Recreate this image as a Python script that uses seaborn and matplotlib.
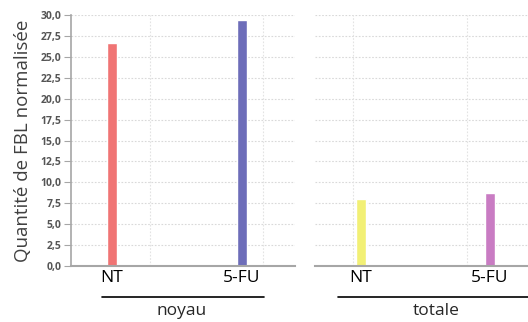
import matplotlib
matplotlib.use("Agg")
import matplotlib.pyplot as plt
import seaborn as sns
import pandas as pd
from matplotlib.lines import Line2D

groups = ["noyau", "totale"]
conditions = ["NT", "5-FU"]
noyau_values = [26.6, 29.4]
totale_values = [8.0, 8.7]
noyau_colors = ["#f07474", "#6d6db9"]
totale_colors = ["#f2f075", "#c97cc3"]
yticks = [0, 2.5, 5, 7.5, 10, 12.5, 15, 17.5, 20, 22.5, 25, 27.5, 30]
ylabel = "Quantité de FBL normalisée"

sns.set_style("white")
plt.rcParams['font.family'] = ['Open Sans', 'DejaVu Sans']

fig = plt.figure(figsize=(5.28, 3.22), dpi=100)

panels = [
    (noyau_values, noyau_colors, [71/528, 1-266/322, 224/528, 251/322], (-0.315, 1.408), [0.29, 1.16], True),
    (totale_values, totale_colors, [315/528, 1-266/322, 213/528, 251/322], (-0.357, 1.295), [-0.06, 0.82], False),
]

for vals, cols, rect, xlim, vgrid, show_y in panels:
    ax = fig.add_axes(rect)
    df = pd.DataFrame({"cond": conditions, "val": vals})
    sns.barplot(data=df, x="cond", y="val", hue="cond", palette=cols,
                width=0.077, legend=False, ax=ax, saturation=1)
    ax.set_xlim(*xlim)
    ax.set_ylim(0, 30)
    ax.set_yticks(yticks)
    for y in yticks[1:]:
        ax.axhline(y, color="#d9d9d9", lw=0.8, ls=(0, (1.5, 1.5)), zorder=0)
    for x in vgrid:
        ax.axvline(x, color="#e3e3e3", lw=0.8, ls=(0, (1.5, 1.5)), zorder=0)
    ax.set_xlabel("")
    ax.set_ylabel("")
    for s in ["top", "right"]:
        ax.spines[s].set_visible(False)
    ax.spines["bottom"].set_color("#a6a6a6")
    ax.spines["bottom"].set_linewidth(1.5)
    ax.tick_params(axis="x", length=0, labelsize=12.5, pad=3, labelcolor="#000000")
    if show_y:
        ax.spines["left"].set_color("#a6a6a6")
        ax.spines["left"].set_linewidth(1.2)
        ax.set_yticklabels([f"{v:.1f}".replace(".", ",") for v in yticks])
        ax.tick_params(axis="y", length=5, width=0.8, color="#a6a6a6",
                       labelsize=7.5, labelcolor="#555555", pad=2, left=True)
        for t in ax.get_yticklabels():
            t.set_fontweight("bold")
        ax.set_ylabel(ylabel, fontsize=13.5, color="#404040", labelpad=6)
    else:
        ax.spines["left"].set_visible(False)
        ax.set_yticklabels([])
        ax.tick_params(axis="y", length=0)

fig.add_artist(Line2D([102/528, 264/528], [1-297/322, 1-297/322], color="black", lw=1.2))
fig.add_artist(Line2D([338/528, 1.0], [1-297/322, 1-297/322], color="black", lw=1.2))
fig.text(182/528, 1-311/322, groups[0], ha="center", va="center", fontsize=12.5)
fig.text(436/528, 1-311/322, groups[1], ha="center", va="center", fontsize=12.5)

fig.savefig("out.png", dpi=100)
